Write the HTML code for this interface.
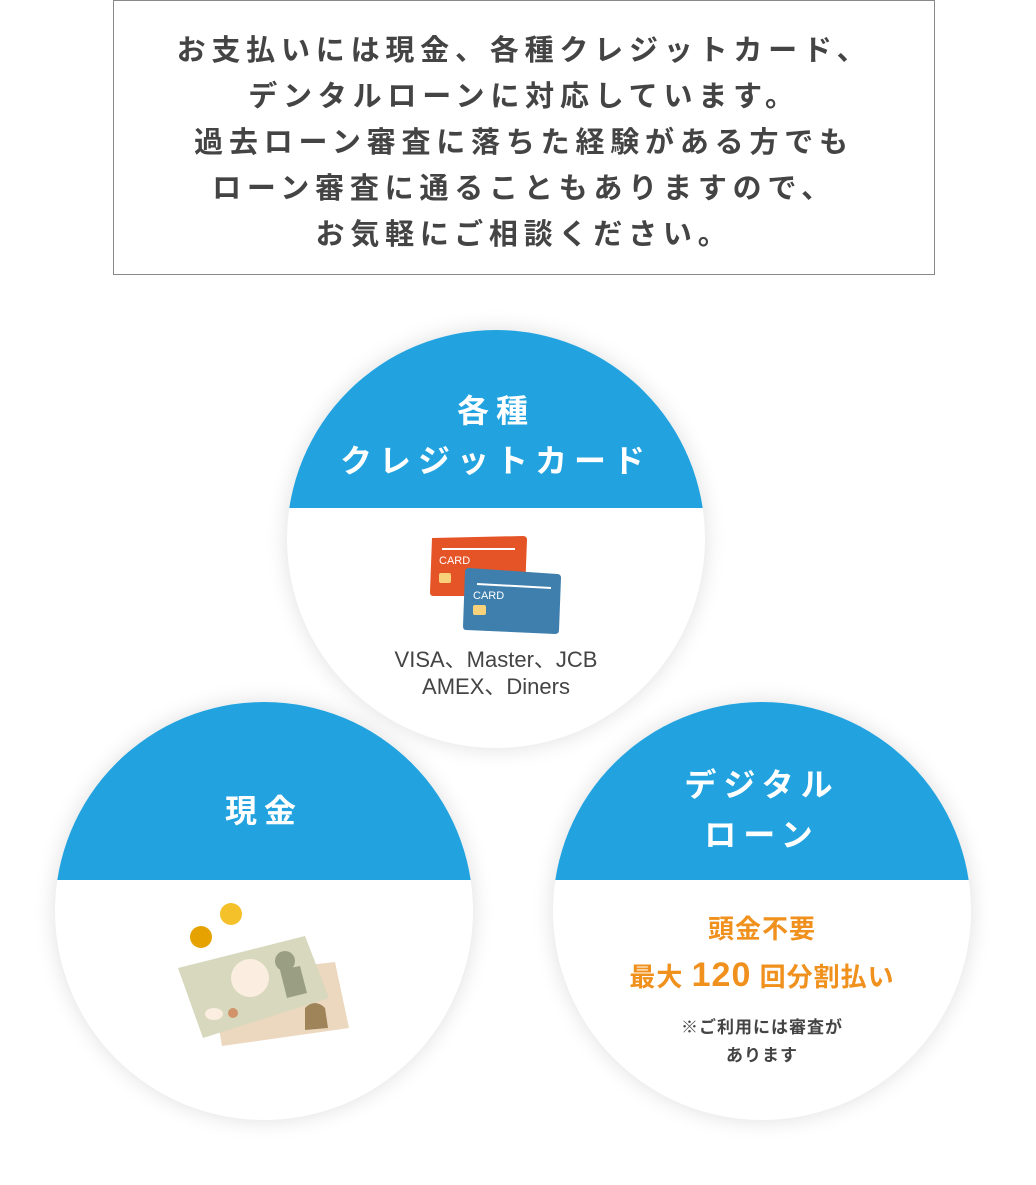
<!DOCTYPE html>
<html><head><meta charset="utf-8"><style>
body{margin:0;width:1036px;height:1185px;background:#fff;position:relative;font-family:"Liberation Sans","Noto Sans CJK JP",sans-serif;overflow:hidden}
.box{position:absolute;left:113px;top:0;width:820px;height:273px;border:1px solid #888;box-sizing:content-box}
.box p{margin:0;position:absolute;left:0;right:0;top:27px;text-align:center;font-size:29px;font-weight:bold;color:#444;line-height:46px;letter-spacing:5.8px}
.c{position:absolute;width:418px;height:418px;border-radius:50%;overflow:hidden;background:#fff;box-shadow:0 0 22px rgba(0,0,0,0.13)}
.c .top{position:absolute;left:0;top:0;width:100%;background:#22a3e0;color:#fff;font-weight:bold;text-align:center;font-size:32px;letter-spacing:7px}
.abs{position:absolute}
</style></head><body>
<div class="box"><p>お支払いには現金、各種クレジットカード、<br>デンタルローンに対応しています。<br>過去ローン審査に落ちた経験がある方でも<br>ローン審査に通ることもありますので、<br>お気軽にご相談ください。</p></div>

<div class="c" style="left:287px;top:330px">
 <div class="top" style="height:178px"><div style="padding-top:56px;line-height:50px">各種<br>クレジットカード</div></div>
 <svg class="abs" style="left:140px;top:200px" width="140" height="110">
  <path d="M5 8 L96 6 Q100 6 100 10 L98 62 Q98 66 94 66 L6 66 Q3 66 3 62 Z" fill="#e55427"/>
  <line x1="15" y1="19" x2="88" y2="19" stroke="#fff" stroke-width="2"/>
  <text x="12" y="34" fill="#fff" font-size="11" font-family="Liberation Sans">CARD</text>
  <rect x="12" y="43" width="12" height="10" rx="2" fill="#f8d27a"/>
  <path d="M42 38 L130 44 Q134 44 134 48 L132 100 Q132 104 128 104 L39 100 Q36 100 36 96 L38 42 Q38 38 42 38Z" fill="#3f7fad"/>
  <line x1="50" y1="54" x2="124" y2="58" stroke="#fff" stroke-width="2"/>
  <text x="46" y="69" fill="#fff" font-size="11" font-family="Liberation Sans">CARD</text>
  <rect x="46" y="75" width="13" height="10" rx="2" fill="#f8d27a"/>
 </svg>
 <div class="abs" style="left:0;right:0;top:316px;text-align:center;font-size:22px;color:#444;line-height:27px">VISA、Master、JCB<br>AMEX、Diners</div>
</div>

<div class="c" style="left:55px;top:702px">
 <div class="top" style="height:178px"><div style="padding-top:84px;line-height:50px">現金</div></div>
 <svg class="abs" style="left:110px;top:196px" width="200" height="160">
  <circle cx="36" cy="39" r="11" fill="#e6a200"/>
  <circle cx="66" cy="16" r="11" fill="#f5c12a"/>
  <path d="M45 78 L170 64 L184 130 L57 148Z" fill="#ecd7bf"/>
  <path d="M140 110 Q150 100 160 110 L163 130 L140 132Z" fill="#9e8458"/>
  <path d="M13 70 L140 38 L164 100 L38 140Z" fill="#d7d8bd"/>
  <circle cx="85" cy="80" r="19" fill="#fbeee0"/>
  <circle cx="120" cy="63" r="10" fill="#9a9e83"/>
  <path d="M115 72 L135 68 L142 95 L122 100Z" fill="#9a9e83"/>
  <circle cx="68" cy="115" r="5" fill="#d1946a"/>
  <ellipse cx="49" cy="116" rx="9" ry="6" fill="#fbeee0"/>
 </svg>
</div>

<div class="c" style="left:553px;top:702px">
 <div class="top" style="height:178px"><div style="padding-top:58px;line-height:50px">デジタル<br>ローン</div></div>
 <div class="abs" style="left:0;right:0;top:204px;text-align:center;color:#f0901d;font-weight:bold;font-size:26px;line-height:46px;letter-spacing:1px">頭金不要<br>最大 <span style="font-size:34px">120</span> 回分割払い</div>
 <div class="abs" style="left:0;right:0;top:312px;text-align:center;color:#444;font-weight:bold;font-size:17px;line-height:28px;letter-spacing:1px">※ご利用には審査が<br>あります</div>
</div>
</body></html>
